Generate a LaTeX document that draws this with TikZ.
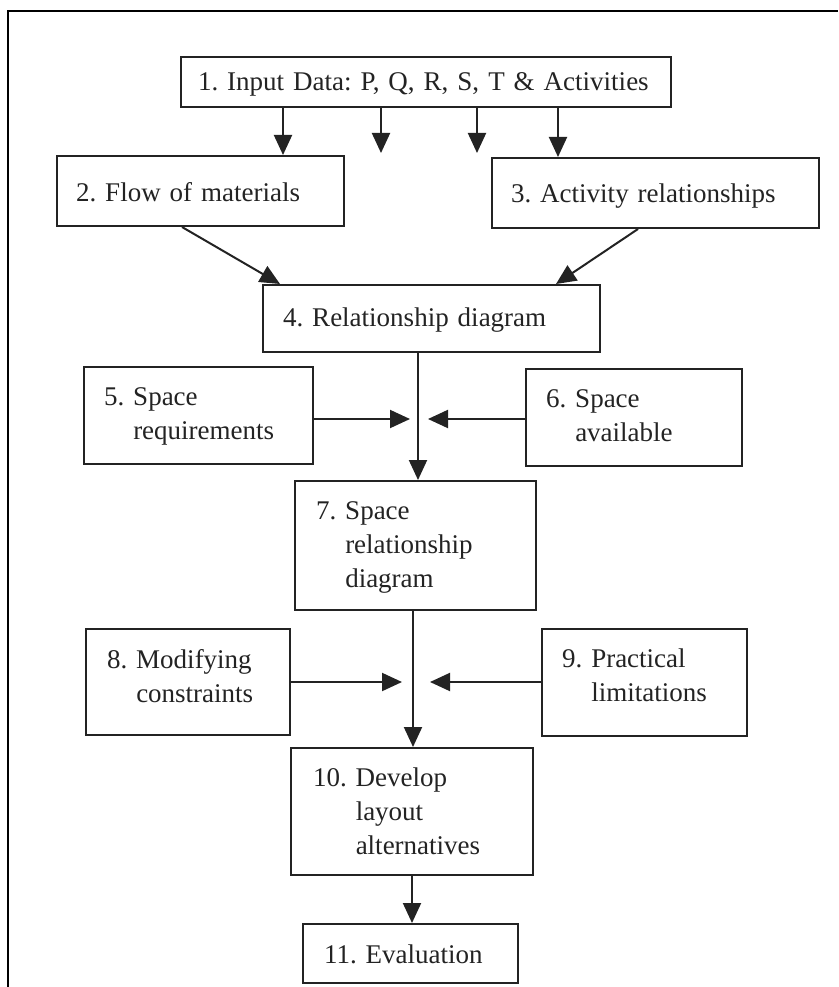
\documentclass[tikz,border=0pt]{standalone}
\usepackage{fontspec}
\setmainfont{Liberation Serif}
\usetikzlibrary{arrows.meta}
\definecolor{ink}{RGB}{35,35,35}
\begin{document}
\begin{tikzpicture}[x=1pt,y=-1pt,
  box/.style={draw=ink, line width=2pt, rectangle, anchor=north west, align=left,
    inner ysep=0pt, font=\fontsize{27}{34}\selectfont\frenchspacing, text=ink},
  arr/.style={draw=ink, line width=2pt, -{Triangle[length=20pt,width=18pt]}},
  frame/.style={draw=black, line width=2.6pt}
  ]
\useasboundingbox (0,0) rectangle (838,987);
\draw[frame] (8,987) -- (8,11) -- (838,11);

% boxes
\node[box, inner xsep=17pt, text width=456pt, text height=34pt, text depth=16pt] (n1) at (180,56)
  {1. Input Data: P, Q, R, S, T \& Activities};
\node[box, inner xsep=19pt, text width=249pt, text height=45pt, text depth=25pt] (n2) at (56,155)
  {2. Flow of materials};
\node[box, inner xsep=19pt, text width=289pt, text height=45pt, text depth=25pt] (n3) at (491,157)
  {3. Activity relationships};
\node[box, inner xsep=20pt, text width=297pt, text height=41pt, text depth=26pt] (n4) at (262,284)
  {4. Relationship diagram};
\node[box, inner xsep=20pt, text width=189pt, text height=38pt, text depth=59pt] (n5) at (83,366)
  {5. Space\\\phantom{5.\ }requirements};
\node[box, inner xsep=20pt, text width=176pt, text height=38pt, text depth=59pt] (n6) at (525,368)
  {6. Space\\\phantom{6.\ }available};
\node[box, inner xsep=21pt, text width=199pt, text height=38pt, text depth=91pt] (n7) at (294,480)
  {7. Space\\\phantom{7.\ }relationship\\\phantom{7.\ }diagram};
\node[box, inner xsep=21pt, text width=162pt, text height=39pt, text depth=67pt] (n8) at (85,628)
  {8. Modifying\\\phantom{8.\ }constraints};
\node[box, inner xsep=20pt, text width=165pt, text height=38pt, text depth=69pt] (n9) at (541,628)
  {9. Practical\\\phantom{9.\ }limitations};
\node[box, inner xsep=22pt, text width=198pt, text height=38pt, text depth=89pt] (n10) at (290,747)
  {10. Develop\\\phantom{10.\ }layout\\\phantom{10.\ }alternatives};
\node[box, inner xsep=21pt, text width=173pt, text height=39pt, text depth=20pt] (n11) at (302,923)
  {11. Evaluation};

% helper coordinates
\coordinate (xa) at (283,0);
\coordinate (xd) at (558,0);
\coordinate (e2) at (381,153);
\coordinate (e3) at (477,153);
\coordinate (s2) at (182,0);
\coordinate (d2) at (280,0);
\coordinate (s3) at (638,0);
\coordinate (d3) at (556,0);
\coordinate (x47) at (418,0);
\coordinate (t5) at (410,419);
\coordinate (t6) at (428,419);
\coordinate (x710) at (413,0);
\coordinate (t8) at (402,682);
\coordinate (t9) at (430,682);
\coordinate (x1011) at (412,0);

% connectors
\draw[arr] (n1.south -| xa) -- (n2.north -| xa);
\draw[arr] (n1.south -| e2) -- (e2);
\draw[arr] (n1.south -| e3) -- (e3);
\draw[arr] (n1.south -| xd) -- (n3.north -| xd);
\draw[arr] (n2.south -| s2) -- (n4.north -| d2);
\draw[arr] (n3.south -| s3) -- (n4.north -| d3);
\draw[arr] (n4.south -| x47) -- (n7.north -| x47);
\draw[arr] (n5.east |- t5) -- (t5);
\draw[arr] (n6.west |- t6) -- (t6);
\draw[arr] (n7.south -| x710) -- (n10.north -| x710);
\draw[arr] (n8.east |- t8) -- (t8);
\draw[arr] (n9.west |- t9) -- (t9);
\draw[arr] (n10.south -| x1011) -- (n11.north -| x1011);
\end{tikzpicture}
\end{document}
